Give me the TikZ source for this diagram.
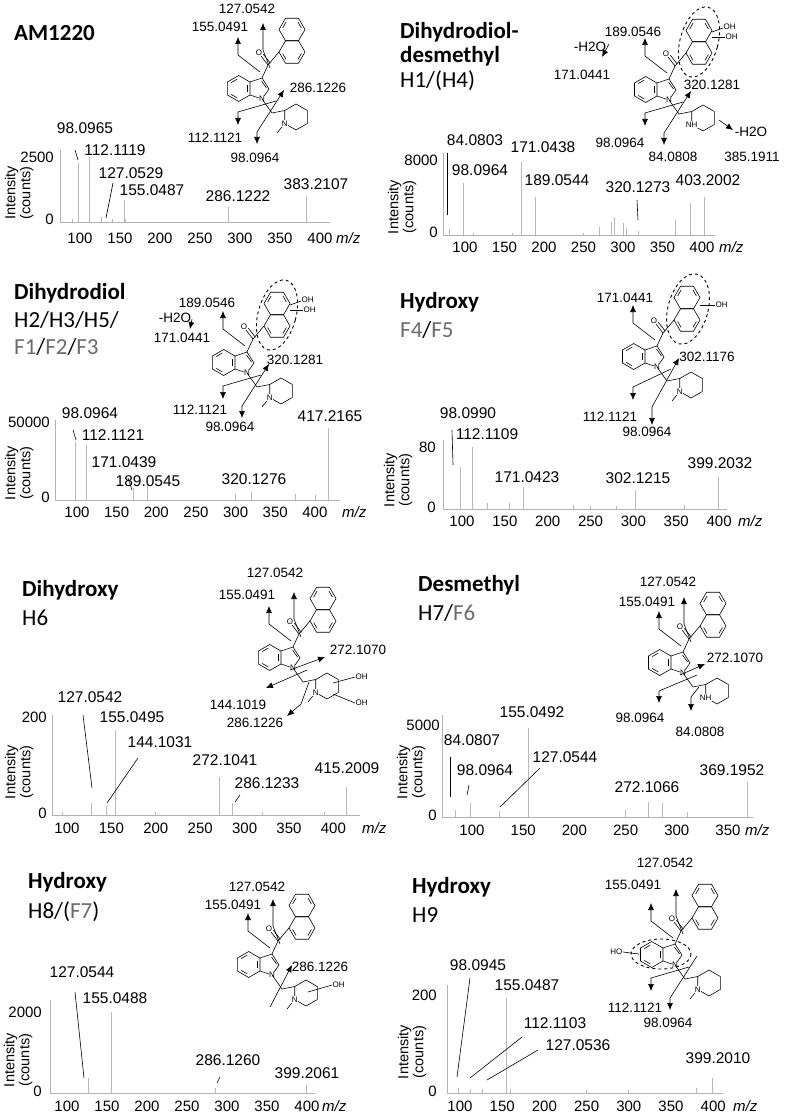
\documentclass[tikz,border=0pt]{standalone}
\usepackage{fontspec}
\setmainfont{Liberation Sans}
\newfontfamily\calib{Carlito}
\usetikzlibrary{calc,arrows.meta}

\definecolor{fgrey}{gray}{0.42}
\tikzset{
  bond/.style={line width=0.6pt},
  frag/.style={line width=0.6pt,-{Latex[length=7pt,width=6pt]}},
  fragb/.style={line width=0.6pt,{Latex[length=7pt,width=6pt]}-{Latex[length=7pt,width=6pt]}},
  peak/.style={gray!55,line width=0.7pt},
  axis/.style={gray!60,line width=0.7pt},
  lead/.style={line width=0.6pt},
  mz/.style={font=\fontsize{15.5}{17}\selectfont,inner sep=0pt},
  ion/.style={font=\fontsize{13.5}{15}\selectfont,inner sep=0pt},
  tick/.style={font=\fontsize{15}{17}\selectfont,inner sep=0pt},
  ylab/.style={font=\fontsize{14.5}{15}\selectfont,rotate=90,align=center,inner sep=0pt},
  ttl/.style={font=\fontsize{23}{26}\selectfont\calib\bfseries,anchor=west,inner sep=0pt},
  sub/.style={font=\fontsize{23}{26}\selectfont\calib,anchor=west,inner sep=0pt},
  atom/.style={font=\fontsize{8}{9}\selectfont,inner sep=0.5pt,fill=white},
  ring/.style={dashed,line width=0.9pt},
}

% hexagon: centre, start angle, inner bonds
\newcommand\hexa[3]{%
  \draw[bond] ($(#1)+(#2:13)$) \foreach \k in {1,...,5}{ -- ($(#1)+(#2+\k*60:13)$)} -- cycle;
  \foreach \k in {#3}{\draw[bond] ($(#1)+(#2+\k*60+9:9.5)$) -- ($(#1)+(#2+\k*60+51:9.5)$);}}

% indole, carbonyl and naphthyl, N at (0,0)
\newcommand\core{%
  \hexa{-23.3,-10.5}{30}{1,3,5}
  \draw[bond] (-12,-4) -- (0,0) -- (7,-10) -- (0,-21) -- (-12,-17);
  \draw[bond] (4.5,-11) -- (-0.5,-18);
  \draw[bond] (0,-21) -- (6,-34) -- (17,-47);
  \draw[bond] (6,-34) -- (-1,-43);
  \draw[bond] (8.3,-35.8) -- (1.3,-44.8);
  \node[atom] (o) at (-3,-46) {O};
  \hexa{30,-47}{0}{0,2}
  \hexa{30,-69.5}{0}{3,5}
  \node[atom] (n) at (0,0) {N};}

% piperidine ring
\newcommand\pipring[1]{%
  \draw[bond] (0,0) -- (10,14) -- (22.7,11.5);
  \draw[bond] (22.7,24.5) -- (22.7,11.5) -- (34,5) -- (45.3,11.5) -- (45.3,24.5) -- (34,31) -- cycle;
  \node[atom] (np) at (22.7,24.5) {#1};}
\newcommand\methyl{\draw[bond] (22.7,24.5) -- (15,34);}

\newcommand\topcuts{%
  \draw[frag] (-2,-27) -- (-24,-44) -- (-24,-62);
  \draw[frag] (8,-31) -- (1,-49) -- (1,-76);}
\newcommand\botcuts{%
  \draw[fragb] (-5,45) -- (-5,33) -- (22,-9);
  \draw[frag] (14,2) -- (-24,13) -- (-24,26);}

% axis frame: y axis x, baseline, right end, top
\newcommand\msaxis[4]{%
  \draw[axis] (#1,#2) -- (#3,#2);
  \draw[axis] (#1,#2) -- (#1,#4);}

\begin{document}
\begin{tikzpicture}[x=1pt,y=-1pt]
\useasboundingbox (0,0) rectangle (785,1115);

%% AM1220
\node[ttl] (t1) at (14,33) {AM1220};
\def\xo{80}\def\yb{222}\def\sc{0.8}
\msaxis{60}{222}{330}{150}
\foreach \m in {100,150,...,400} \node[tick] (x1\m) at ({\xo+(\m-100)*\sc},238) {\m};
\node[tick,anchor=west] (u1) at (336,238) {\itshape m/z};
\node[tick,anchor=east] (y1a) at (54,157) {2500};
\node[tick,anchor=east] (y1b) at (54,219) {0};
\node[ylab] (l1) at (19,193) {Intensity\\(counts)};
\foreach \m/\t in {90/219,98/163,112/157,127/217,140/219,155/200,157/219,286/207,383/196}
  \draw[peak] ({\xo+(\m-100)*\sc},\yb) -- ({\xo+(\m-100)*\sc},\t);
\node[mz] (p1a) at (85,128) {98.0965};
\node[mz] (p1b) at (115,150) {112.1119};
\node[mz] (p1c) at (131,173) {127.0529};
\node[mz] (p1d) at (152,190) {155.0487};
\node[mz] (p1e) at (238,196) {286.1222};
\node[mz] (p1f) at (316,184) {383.2107};
\draw[lead] (75,150) -- (78,160);
\draw[lead] (113,183) -- (106,218);
\begin{scope}[shift={(262,99)}]
  \core \methyl \pipring{N}
  \topcuts \botcuts
  \node[ion] (f1a) at (-15,-90) {127.0542};
  \node[ion] (f1b) at (-42,-72) {155.0491};
  \node[ion] (f1c) at (56,-11) {286.1226};
  \node[ion] (f1d) at (-47,39) {112.1121};
  \node[ion] (f1e) at (-7,59) {98.0964};
\end{scope}

%% Dihydrodiol-desmethyl
\node[ttl] (t2) at (400,32) {Dihydrodiol-};
\node[ttl] (t2b) at (400,56) {desmethyl};
\node[sub] (s2) at (400,81) {H1/(H4)};
\def\xo{465}\def\yb{235}\def\sc{0.79}
\msaxis{443}{235}{715}{153}
\foreach \m in {100,150,...,400} \node[tick] (x2\m) at ({\xo+(\m-100)*\sc},247) {\m};
\node[tick,anchor=west] (u2) at (719,247) {\itshape m/z};
\node[tick,anchor=east] (y2a) at (438,160) {8000};
\node[tick,anchor=east] (y2b) at (438,232) {0};
\node[ylab] (l2) at (402,207) {Intensity\\(counts)};
\foreach \m/\t in {80/229,98/183,110/233,160/233,171/162,189/197,250/233,270/227,285/222,289/217,300/223,304/228,320/231,366/220,385/203,403/197}
  \draw[peak] ({\xo+(\m-100)*\sc},\yb) -- ({\xo+(\m-100)*\sc},\t);
\node[mz] (p2a) at (475,140) {84.0803};
\node[mz] (p2b) at (480,170) {98.0964};
\node[mz] (p2c) at (543,147) {171.0438};
\node[mz] (p2d) at (557,180) {189.0544};
\node[mz] (p2e) at (638,187) {320.1273};
\node[mz] (p2f) at (708,180) {403.2002};
\draw[lead] (447,153) -- (447,215);
\draw[lead] (637,200) -- (638,220);
\begin{scope}[shift={(669,100)}]
  \core \pipring{NH}
  \draw[ring,rotate around={-15:(30,-58)}] (30,-58) ellipse (19 and 36);
  \draw[bond] (43,-68) -- (54,-72); \node[atom,fill=none,anchor=west] (oh2a) at (54,-73) {OH};
  \draw[bond] (43,-63) -- (56,-63); \node[atom,fill=none,anchor=west] (oh2b) at (56,-63) {OH};
  \draw[frag] (-2,-27) -- (-24,-44) -- (-24,-62);
  \draw[frag] (-60,-56) -- (-67,-43);
  \botcuts
  \draw[frag] (50,20) -- (64,30);
  \node[ion] (f2a) at (-36,-68) {189.0546};
  \node[ion] (f2b) at (-79,-53) {-H2O};
  \node[ion] (f2c) at (-87,-25) {171.0441};
  \node[ion] (f2d) at (43,-15) {320.1281};
  \node[ion] (f2e) at (-49,43) {98.0964};
  \node[ion] (f2f) at (4,57) {84.0808};
  \node[ion] (f2g) at (82,32) {-H2O};
  \node[ion] (f2h) at (83,57) {385.1911};
\end{scope}

%% Dihydrodiol
\node[ttl] (t3) at (14,293) {Dihydrodiol};
\node[sub] (s3) at (14,320) {H2/H3/H5/};
\node[sub] (s3b) at (14,347) {\textcolor{fgrey}{F1}/\textcolor{fgrey}{F2}/\textcolor{fgrey}{F3}};
\def\xo{77}\def\yb{500}\def\sc{0.793}
\msaxis{55}{500}{340}{420}
\foreach \m in {100,150,...,400} \node[tick] (x3\m) at ({\xo+(\m-100)*\sc},512) {\m};
\node[tick,anchor=west] (u3) at (342,512) {\itshape m/z};
\node[tick,anchor=east] (y3a) at (50,422) {50000};
\node[tick,anchor=east] (y3b) at (50,497) {0};
\node[ylab] (l3) at (19,473) {Intensity\\(counts)};
\foreach \m/\t in {98/442,112/445,171/488,189/483,300/494,320/492,375/494,400/495,417/428}
  \draw[peak] ({\xo+(\m-100)*\sc},\yb) -- ({\xo+(\m-100)*\sc},\t);
\node[mz] (p3a) at (90,413) {98.0964};
\node[mz] (p3b) at (113,435) {112.1121};
\node[mz] (p3c) at (124,462) {171.0439};
\node[mz] (p3d) at (148,481) {189.0545};
\node[mz] (p3e) at (254,479) {320.1276};
\node[mz] (p3f) at (330,416) {417.2165};
\draw[lead] (73,430) -- (76,440);
\draw[lead] (128,478) -- (132,490);
\begin{scope}[shift={(247,373)}]
  \core \methyl \pipring{N}
  \draw[ring,rotate around={-15:(30,-58)}] (30,-58) ellipse (19 and 36);
  \draw[bond] (43,-68) -- (54,-72); \node[atom,fill=none,anchor=west] (oh3a) at (54,-73) {OH};
  \draw[bond] (43,-63) -- (56,-63); \node[atom,fill=none,anchor=west] (oh3b) at (56,-63) {OH};
  \draw[frag] (-2,-27) -- (-24,-44) -- (-24,-62);
  \draw[frag] (-55,-54) -- (-57,-44);
  \botcuts
  \node[ion] (f3a) at (-40,-70) {189.0546};
  \node[ion] (f3b) at (-72,-55) {-H2O};
  \node[ion] (f3c) at (-65,-35) {171.0441};
  \node[ion] (f3d) at (48,-13) {320.1281};
  \node[ion] (f3e) at (-47,37) {112.1121};
  \node[ion] (f3f) at (-17,54) {98.0964};
\end{scope}

%% Hydroxy F4/F5
\node[ttl] (t4) at (400,302) {Hydroxy};
\node[sub] (s4) at (400,330) {\textcolor{fgrey}{F4}/\textcolor{fgrey}{F5}};
\def\xo{462}\def\yb{509}\def\sc{0.857}
\msaxis{443}{509}{727}{440}
\foreach \m in {100,150,...,400} \node[tick] (x4\m) at ({\xo+(\m-100)*\sc},521) {\m};
\node[tick,anchor=west] (u4) at (738,521) {\itshape m/z};
\node[tick,anchor=east] (y4a) at (436,447) {80};
\node[tick,anchor=east] (y4b) at (436,507) {0};
\node[ylab] (l4) at (398,480) {Intensity\\(counts)};
\foreach \m/\t in {98/467,112/447,130/503,155/503,171/487,230/505,250/506,280/506,302/490,360/505,399/477}
  \draw[peak] ({\xo+(\m-100)*\sc},\yb) -- ({\xo+(\m-100)*\sc},\t);
\node[mz] (p4a) at (468,413) {98.0990};
\node[mz] (p4b) at (487,434) {112.1109};
\node[mz] (p4c) at (527,477) {171.0423};
\node[mz] (p4d) at (638,478) {302.1215};
\node[mz] (p4e) at (720,463) {399.2032};
\draw[lead] (452,430) -- (453,465);
\begin{scope}[shift={(657,367)}]
  \core \methyl \pipring{N}
  \draw[ring,rotate around={-15:(31,-58)}] (31,-58) ellipse (20 and 36);
  \draw[bond] (43,-62) -- (58,-62); \node[atom,fill=none,anchor=west] (oh4) at (58,-62) {OH};
  \draw[frag] (-2,-27) -- (-24,-44) -- (-24,-62);
  \draw[fragb] (-5,58) -- (-5,40) -- (22,-9);
  \draw[frag] (14,2) -- (-24,20) -- (-24,33);
  \node[ion] (f4a) at (-32,-69) {171.0441};
  \node[ion] (f4b) at (50,-10) {302.1176};
  \node[ion] (f4c) at (-47,50) {112.1121};
  \node[ion] (f4d) at (-10,65) {98.0964};
\end{scope}

%% Dihydroxy H6
\node[ttl] (t5) at (22,590) {Dihydroxy};
\node[sub] (s5) at (22,618) {H6};
\def\xo{67}\def\yb{815}\def\sc{0.888}
\msaxis{52}{815}{360}{715}
\foreach \m in {100,150,...,400} \node[tick] (x5\m) at ({\xo+(\m-100)*\sc},828) {\m};
\node[tick,anchor=west] (u5) at (362,828) {\itshape m/z};
\node[tick,anchor=east] (y5a) at (47,717) {200};
\node[tick,anchor=east] (y5b) at (47,813) {0};
\node[ylab] (l5) at (19,772) {Intensity\\(counts)};
\foreach \m/\t in {95/812,127/803,144/806,155/730,200/812,272/777,286/803,320/812,390/812,415/787}
  \draw[peak] ({\xo+(\m-100)*\sc},\yb) -- ({\xo+(\m-100)*\sc},\t);
\node[mz] (p5a) at (90,697) {127.0542};
\node[mz] (p5b) at (132,717) {155.0495};
\node[mz] (p5c) at (160,742) {144.1031};
\node[mz] (p5d) at (225,760) {272.1041};
\node[mz] (p5e) at (267,783) {286.1233};
\node[mz] (p5f) at (347,768) {415.2009};
\draw[lead] (83,715) -- (92,788);
\draw[lead] (138,758) -- (107,803);
\draw[lead] (240,795) -- (235,802);
\begin{scope}[shift={(293,668)}]
  \core \methyl \pipring{N}
  \draw[bond] (40,15) -- (62,9); \node[atom,fill=none,anchor=west] (oh5a) at (62,9) {OH};
  \draw[bond] (40,26) -- (62,35); \node[atom,fill=none,anchor=west] (oh5b) at (62,35) {OH};
  \topcuts
  \draw[frag] (-3,2) -- (32,-11);
  \draw[frag] (14,2) -- (-27,20);
  \draw[frag] (16,14) -- (8,36) -- (-6,48);
  \node[ion] (f5a) at (-18,-95) {127.0542};
  \node[ion] (f5b) at (-46,-73) {155.0491};
  \node[ion] (f5c) at (65,-18) {272.1070};
  \node[ion] (f5d) at (-55,37) {144.1019};
  \node[ion] (f5e) at (-38,55) {286.1226};
\end{scope}

%% Desmethyl H7/F6
\node[ttl] (t6) at (418,585) {Desmethyl};
\node[sub] (s6) at (418,613) {H7/\textcolor{fgrey}{F6}};
\def\xo{472}\def\yb{817}\def\sc{1.024}
\msaxis{442}{817}{753}{715}
\foreach \m in {100,150,...,350} \node[tick] (x6\m) at ({\xo+(\m-100)*\sc},830) {\m};
\node[tick,anchor=west] (u6) at (745,830) {\itshape m/z};
\node[tick,anchor=east] (y6a) at (440,725) {5000};
\node[tick,anchor=east] (y6b) at (437,815) {0};
\node[ylab] (l6) at (411,772) {Intensity\\(counts)};
\foreach \m/\t in {84/810,98/803,127/811,155/728,250/810,272/802,286/803,310/812,369/782}
  \draw[peak] ({\xo+(\m-100)*\sc},\yb) -- ({\xo+(\m-100)*\sc},\t);
\node[mz] (p6a) at (532,712) {155.0492};
\node[mz] (p6b) at (472,740) {84.0807};
\node[mz] (p6c) at (485,770) {98.0964};
\node[mz] (p6d) at (565,757) {127.0544};
\node[mz] (p6e) at (647,787) {272.1066};
\node[mz] (p6f) at (732,770) {369.1952};
\draw[lead] (450,757) -- (450,797);
\draw[lead] (469,785) -- (467,795);
\draw[lead] (540,768) -- (500,807);
\begin{scope}[shift={(683,673)}]
  \core \pipring{NH}
  \topcuts
  \draw[frag] (-3,2) -- (22,-9);
  \draw[frag] (14,2) -- (-24,18) -- (-24,30);
  \draw[frag] (16,14) -- (8,24) -- (8,38);
  \node[ion] (f6a) at (-15,-91) {127.0542};
  \node[ion] (f6b) at (-36,-71) {155.0491};
  \node[ion] (f6c) at (52,-15) {272.1070};
  \node[ion] (f6d) at (-43,45) {98.0964};
  \node[ion] (f6e) at (17,59) {84.0808};
\end{scope}

%% Hydroxy H8/(F7)
\node[ttl] (t7) at (28,882) {Hydroxy};
\node[sub] (s7) at (28,912) {H8/(\textcolor{fgrey}{F7})};
\def\xo{67}\def\yb{1093}\def\sc{0.8}
\msaxis{50}{1093}{315}{1000}
\foreach \m in {100,150,...,400} \node[tick] (x7\m) at ({\xo+(\m-100)*\sc},1106) {\m};
\node[tick,anchor=west] (u7) at (322,1106) {\itshape m/z};
\node[tick,anchor=east] (y7a) at (42,1012) {2000};
\node[tick,anchor=east] (y7b) at (42,1091) {0};
\node[ylab] (l7) at (18,1060) {Intensity\\(counts)};
\foreach \m/\t in {127/1078,155/1012,286/1088,399/1085}
  \draw[peak] ({\xo+(\m-100)*\sc},\yb) -- ({\xo+(\m-100)*\sc},\t);
\node[mz] (p7a) at (82,972) {127.0544};
\node[mz] (p7b) at (115,998) {155.0488};
\node[mz] (p7c) at (228,1060) {286.1260};
\node[mz] (p7d) at (307,1073) {399.2061};
\draw[lead] (75,992) -- (84,1078);
\draw[lead] (220,1077) -- (217,1083);
\begin{scope}[shift={(272,975)}]
  \core \methyl \pipring{N}
  \draw[bond] (36,17) -- (60,10); \node[atom,fill=none,anchor=west] (oh7) at (60,10) {OH};
  \topcuts
  \draw[frag] (-2,32) -- (20,-10);
  \node[ion] (f7a) at (-15,-88) {127.0542};
  \node[ion] (f7b) at (-39,-70) {155.0491};
  \node[ion] (f7c) at (48,-8) {286.1226};
\end{scope}

%% Hydroxy H9
\node[ttl] (t8) at (412,887) {Hydroxy};
\node[sub] (s8) at (412,915) {H9};
\def\xo{460}\def\yb{1093}\def\sc{0.844}
\msaxis{447}{1093}{723}{985}
\foreach \m in {100,150,...,400} \node[tick] (x8\m) at ({\xo+(\m-100)*\sc},1106) {\m};
\node[tick,anchor=west] (u8) at (733,1106) {\itshape m/z};
\node[tick,anchor=east] (y8a) at (437,995) {200};
\node[tick,anchor=east] (y8b) at (437,1091) {0};
\node[ylab] (l8) at (412,1052) {Intensity\\(counts)};
\foreach \m/\t in {98/1088,112/1089,127/1089,155/998,160/1089,250/1090,300/1090,380/1088,399/1078}
  \draw[peak] ({\xo+(\m-100)*\sc},\yb) -- ({\xo+(\m-100)*\sc},\t);
\node[mz] (p8a) at (478,965) {98.0945};
\node[mz] (p8b) at (527,985) {155.0487};
\node[mz] (p8c) at (555,1023) {112.1103};
\node[mz] (p8d) at (578,1045) {127.0536};
\node[mz] (p8e) at (718,1058) {399.2010};
\draw[lead] (470,978) -- (457,1077);
\draw[lead] (522,1037) -- (470,1078);
\draw[lead] (538,1050) -- (487,1080);
\begin{scope}[shift={(675,965)}]
  \core \methyl \pipring{N}
  \draw[ring] (-14,-11) ellipse (30 and 15);
  \draw[bond] (-36,-11) -- (-52,-13); \node[atom,fill=none,anchor=east] (ho8) at (-52,-13) {HO};
  \topcuts
  \draw[frag] (22,-9) -- (-5,33) -- (-5,45);
  \draw[frag] (14,2) -- (-24,13) -- (-24,26);
  \node[ion] (f8a) at (-10,-102) {127.0542};
  \node[ion] (f8b) at (-42,-80) {155.0491};
  \node[ion] (f8c) at (-40,43) {112.1121};
  \node[ion] (f8d) at (-7,58) {98.0964};
\end{scope}
\end{tikzpicture}
\end{document}
